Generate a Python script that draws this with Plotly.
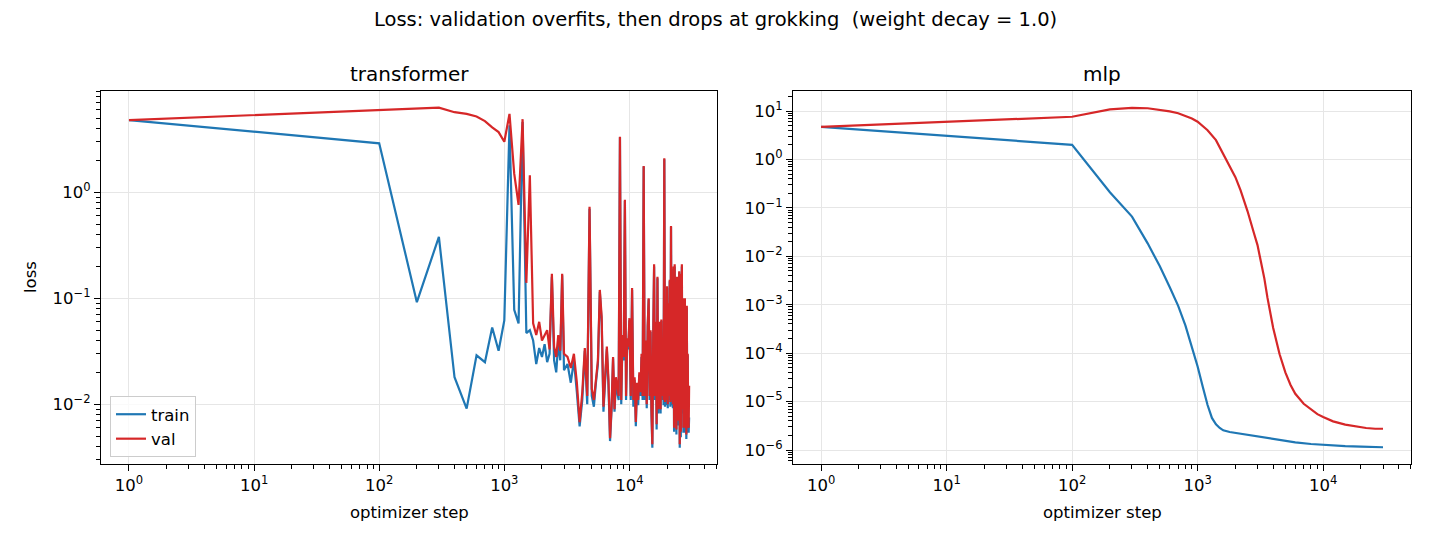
import plotly.graph_objects as go

# ---------------- data ----------------
tf_steps = [1] + list(range(100, 3001, 100)) + list(range(3200, 10001, 200)) + list(range(10250, 30001, 250))

tf_val = [
    # 1, 100 .. 3000
    4.8, 6.0, 6.2, 6.3, 5.7, 5.5, 5.2, 4.7, 4.1, 3.7, 3.0,
    5.5, 1.5, 0.76, 4.9, 0.14, 1.45, 0.058, 0.045, 0.060, 0.040,
    0.045, 0.050, 0.033, 0.17, 0.035, 0.028, 0.045, 0.032, 0.17, 0.030,
    # 3200 .. 10000
    0.028, 0.022, 0.030, 0.016, 0.0068, 0.013, 0.034, 0.012, 0.73, 0.014,
    0.011, 0.018, 0.026, 0.12, 0.067, 0.0095, 0.018, 0.035, 0.017, 0.0048,
    0.0095, 0.028, 0.009, 0.018, 0.015, 0.012, 3.35, 0.011, 0.045, 0.028,
    0.85, 0.012, 0.042, 0.035, 0.065,
    # 10250 .. 30000
    0.012, 0.125, 0.011, 0.018, 0.0068, 0.016, 0.011, 0.020, 0.013, 0.030,
    0.012, 1.77, 0.012, 0.040, 0.010, 0.055, 0.10, 0.012, 0.050, 0.009,
    0.0042, 0.045, 0.21, 0.012, 0.060, 0.0065, 0.16, 0.009, 0.028, 0.060,
    0.009, 0.063, 0.012, 0.030, 0.011, 2.1, 0.0105, 0.050, 0.011, 0.13,
    0.010, 0.090, 0.012, 0.15, 0.0105, 0.48, 0.011, 0.15, 0.010, 0.20,
    0.006, 0.21, 0.008, 0.12, 0.0058, 0.16, 0.009, 0.15, 0.007, 0.18,
    0.0042, 0.17, 0.0055, 0.12, 0.21, 0.009, 0.10, 0.006, 0.090, 0.0065,
    0.10, 0.006, 0.060, 0.0052, 0.085, 0.006, 0.030, 0.007, 0.006, 0.015,
]

tf_train = [
    # 1, 100 .. 3000
    4.8, 2.9, 0.092, 0.38, 0.018, 0.0091, 0.029, 0.025, 0.053, 0.032, 0.062,
    4.3, 0.078, 0.058, 4.6, 0.047, 0.050, 0.040, 0.024, 0.034, 0.028,
    0.037, 0.025, 0.030, 0.16, 0.026, 0.020, 0.038, 0.026, 0.165, 0.021,
    # 3200 .. 10000
    0.024, 0.016, 0.026, 0.013, 0.0062, 0.011, 0.032, 0.010, 0.70, 0.012,
    0.0095, 0.016, 0.024, 0.115, 0.060, 0.0085, 0.016, 0.033, 0.015, 0.0045,
    0.009, 0.027, 0.0085, 0.016, 0.013, 0.011, 3.3, 0.010, 0.042, 0.026,
    0.83, 0.011, 0.040, 0.033, 0.062,
    # 10250 .. 30000
    0.011, 0.12, 0.0095, 0.017, 0.0062, 0.015, 0.0098, 0.019, 0.012, 0.028,
    0.011, 1.75, 0.011, 0.038, 0.0092, 0.053, 0.098, 0.011, 0.048, 0.0082,
    0.0039, 0.043, 0.20, 0.011, 0.058, 0.0058, 0.155, 0.0082, 0.027, 0.058,
    0.0082, 0.061, 0.011, 0.029, 0.0098, 2.05, 0.0095, 0.048, 0.0098, 0.125,
    0.0092, 0.087, 0.011, 0.145, 0.0095, 0.47, 0.0098, 0.145, 0.0092, 0.19,
    0.0055, 0.20, 0.0072, 0.115, 0.0052, 0.155, 0.0082, 0.145, 0.0063, 0.175,
    0.0039, 0.165, 0.0049, 0.115, 0.20, 0.0082, 0.097, 0.0054, 0.087, 0.0058,
    0.097, 0.0054, 0.058, 0.0047, 0.082, 0.0054, 0.029, 0.0063, 0.0054, 0.0075,
]

mlp_train_steps = [1, 100, 200, 300, 400, 500, 600, 700, 800, 900, 1000, 1100, 1200,
                   1300, 1400, 1500, 1600, 1800, 2000, 2500, 3000, 3500, 4000, 5000,
                   6000, 8000, 10000, 15000, 20000, 30000]
mlp_train = [4.7, 2.0, 0.21, 0.066, 0.0185, 0.0062, 0.0023, 9.5e-4, 3.7e-4, 1.4e-4,
             5.3e-5, 2.0e-5, 8.5e-6, 4.6e-6, 3.4e-6, 2.85e-6, 2.55e-6, 2.35e-6, 2.25e-6,
             2.05e-6, 1.93e-6, 1.8e-6, 1.68e-6, 1.52e-6, 1.44e-6, 1.33e-6, 1.27e-6,
             1.2e-6, 1.17e-6, 1.14e-6]

mlp_val_steps = [1, 100, 200, 300, 400, 500, 600, 700, 800, 900, 1000, 1200, 1400, 1600,
                 1800, 2000, 2200, 2500, 2800, 3000, 3200, 3400, 3600, 3800, 4000, 4500,
                 5000, 5500, 6000, 7000, 8000, 9000, 10000, 12000, 15000, 18000, 22000,
                 26000, 30000]
mlp_val = [4.7, 7.6, 10.8, 11.6, 11.4, 10.6, 9.8, 9.0, 8.0, 7.0, 6.0, 4.0, 2.5, 1.3,
           0.75, 0.43, 0.23, 0.085, 0.031, 0.017, 0.0075, 0.0035, 0.0014, 6.5e-4, 3.3e-4,
           9.5e-5, 4.0e-5, 2.2e-5, 1.45e-5, 9.0e-6, 6.8e-6, 5.5e-6, 4.8e-6, 3.9e-6,
           3.35e-6, 3.05e-6, 2.85e-6, 2.75e-6, 2.75e-6]

x_tick_vals = [1, 10, 100, 1000, 10000]
x_tick_text = ["10<sup>0</sup>", "10<sup>1</sup>", "10<sup>2</sup>", "10<sup>3</sup>", "10<sup>4</sup>"]
tf_y_tick_vals = [0.01, 0.1, 1]
tf_y_tick_text = ["10<sup>−2</sup>", "10<sup>−1</sup>", "10<sup>0</sup>"]
mlp_y_tick_vals = [1e-6, 1e-5, 1e-4, 1e-3, 1e-2, 1e-1, 1, 10]
mlp_y_tick_text = ["10<sup>−6</sup>", "10<sup>−5</sup>", "10<sup>−4</sup>", "10<sup>−3</sup>",
                   "10<sup>−2</sup>", "10<sup>−1</sup>", "10<sup>0</sup>", "10<sup>1</sup>"]

BLUE = "#1f77b4"
RED = "#d62728"
FONT = "DejaVu Sans"
W, H = 1430, 546

def minor_vals(lo, hi):
    return [m * 10 ** k for k in range(lo, hi) for m in range(2, 10)]

fig = go.Figure()
fig.add_trace(go.Scatter(x=tf_steps, y=tf_train, mode="lines", name="train",
                         line=dict(color=BLUE, width=2.2), xaxis="x", yaxis="y"))
fig.add_trace(go.Scatter(x=tf_steps, y=tf_val, mode="lines", name="val",
                         line=dict(color=RED, width=2.2), xaxis="x", yaxis="y"))
fig.add_trace(go.Scatter(x=mlp_train_steps, y=mlp_train, mode="lines", name="train",
                         line=dict(color=BLUE, width=2.2),
                         xaxis="x2", yaxis="y2", showlegend=False))
fig.add_trace(go.Scatter(x=mlp_val_steps, y=mlp_val, mode="lines", name="val",
                         line=dict(color=RED, width=2.2),
                         xaxis="x2", yaxis="y2", showlegend=False))

def axis_common():
    return dict(type="log", showline=True, mirror=True, linecolor="black", linewidth=1.2,
                ticks="outside", ticklen=6, tickwidth=1.2, tickcolor="black",
                showgrid=True, gridcolor="#e6e6e6", gridwidth=1, zeroline=False,
                automargin=False,
                tickfont=dict(family=FONT, size=16.5, color="black"))

y_bot = (H - 464) / H
y_top = (H - 91) / H

xa = axis_common()
xa.update(domain=[101 / W, 717 / W], range=[-0.2236, 4.70], anchor="y",
          tickmode="array", tickvals=x_tick_vals, ticktext=x_tick_text,
          minor=dict(tickmode="array", tickvals=minor_vals(0, 5), ticks="outside",
                     ticklen=3.5, tickwidth=1, tickcolor="black", showgrid=False))
xa2 = axis_common()
xa2.update(domain=[793 / W, 1411 / W], range=[-0.2236, 4.70], anchor="y2",
           tickmode="array", tickvals=x_tick_vals, ticktext=x_tick_text,
           minor=dict(tickmode="array", tickvals=minor_vals(0, 5), ticks="outside",
                      ticklen=3.5, tickwidth=1, tickcolor="black", showgrid=False))
ya = axis_common()
ya.update(domain=[y_bot, y_top], range=[-2.563, 0.956], anchor="x",
          tickmode="array", tickvals=tf_y_tick_vals, ticktext=tf_y_tick_text,
          minor=dict(tickmode="array", tickvals=minor_vals(-3, 1), ticks="outside",
                     ticklen=3.5, tickwidth=1, tickcolor="black", showgrid=False))
ya2 = axis_common()
ya2.update(domain=[y_bot, y_top], range=[-6.289, 1.413], anchor="x2",
           tickmode="array", tickvals=mlp_y_tick_vals, ticktext=mlp_y_tick_text,
           minor=dict(tickmode="array", tickvals=minor_vals(-7, 2), ticks="outside",
                      ticklen=3.5, tickwidth=1, tickcolor="black", showgrid=False))

def ann(text, px, py, size, angle=0):
    return dict(text=text, x=px / W, y=(H - py) / H, xref="paper", yref="paper",
                showarrow=False, xanchor="center", yanchor="middle", textangle=angle,
                font=dict(family=FONT, size=size, color="black"))

fig.update_layout(
    width=W, height=H,
    margin=dict(l=0, r=0, t=0, b=0, autoexpand=False),
    paper_bgcolor="white", plot_bgcolor="white",
    font=dict(family=FONT, size=16.5, color="black"),
    xaxis=xa, xaxis2=xa2, yaxis=ya, yaxis2=ya2,
    showlegend=True,
    legend=dict(x=110 / W, y=(H - 396) / H, xanchor="left", yanchor="top",
                bgcolor="rgba(255,255,255,0.8)", bordercolor="#cccccc", borderwidth=1,
                font=dict(family=FONT, size=16.5, color="black"),
                tracegroupgap=0, itemwidth=30),
    annotations=[
        ann("Loss: validation overfits, then drops at grokking  (weight decay = 1.0)", 715, 20, 19.5),
        ann("transformer", 409, 74, 20),
        ann("mlp", 1102, 74, 20),
        ann("optimizer step", 409, 512, 16.5),
        ann("optimizer step", 1102, 512, 16.5),
        ann("loss", 30, 277, 16.5, angle=-90),
    ],
)

fig.write_html("out.html",
               config={"displayModeBar": False},
               post_script="document.body.style.margin='0';document.body.style.overflow='hidden';")
